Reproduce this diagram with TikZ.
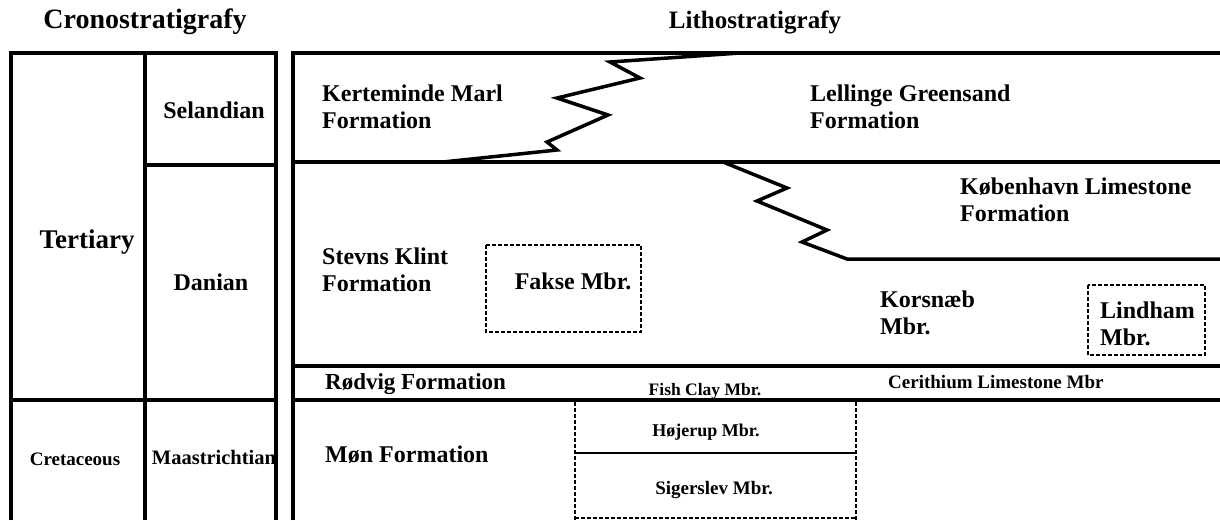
\documentclass[tikz,border=0pt]{standalone}
\usepackage{fontspec}
\setmainfont{Liberation Serif}
\tikzset{
  bed/.style={line width=3.5pt},
  thinbed/.style={line width=2pt},
  mbrbox/.style={line width=2pt, dash pattern=on 4pt off 2pt},
  mbrline/.style={line width=2pt, dash pattern=on 4pt off 2pt},
  big/.style={font=\bfseries\fontsize{24}{27}\selectfont, align=left, inner sep=0pt},
  small/.style={font=\bfseries\fontsize{19}{22}\selectfont, inner sep=0pt},
  head/.style={font=\bfseries\fontsize{26}{30}\selectfont, inner sep=0pt}
}
\begin{document}
\begin{tikzpicture}[x=1pt,y=-1pt]
  \useasboundingbox (0,0) rectangle (1220,520);
  \node[head, font=\bfseries\fontsize{28}{30}\selectfont] (crono) at (145,22) {Cronostratigrafy};
  \node[head, font=\bfseries\fontsize{25}{30}\selectfont] (litho) at (755,22) {Lithostratigrafy};
  \begin{scope}[bed]
    \draw (11,520) |- (276,53) -- (276,520);
    \draw (145,53) -- (145,520);
    \draw (145,165) -- (276,165);
    \draw (11,400) -- (276,400);
    \draw (293,520) |- (1220,53);
    \draw (293,162) -- (1220,162);
    \draw (293,366) -- (1220,366);
    \draw (293,400) -- (1220,400);
    \draw[line join=miter] (443,162) -- (557,150) -- (547,142) -- (608,115) -- (557,98)
      -- (640,78) -- (610,62) -- (740,53);
    \draw[line join=miter] (723,162) -- (787,188) -- (757,201) -- (827,230) -- (802,242)
      -- (847,259) -- (1220,259);
  \end{scope}
  \draw[mbrbox] (486,245) rectangle (641,332);
  \draw[mbrbox] (1088,285) rectangle (1205,355);
  \draw[mbrline] (575,402) -- (575,520);
  \draw[mbrline] (856,402) -- (856,520);
  \draw[mbrline] (575,518) -- (856,518);
  \draw[thinbed] (575,453) -- (856,453);
  \node[big, font=\bfseries\fontsize{27}{30}\selectfont] (tertiary) at (87,242) {Tertiary};
  \node[big] (selandian) at (214,110) {Selandian};
  \node[big] (danian) at (211,282) {Danian};
  \node[small] (cretaceous) at (75,459) {Cretaceous};
  \node[small, font=\bfseries\fontsize{20.5}{22}\selectfont] (maastricht) at (214,457) {Maastrichtian};
  \node[big, anchor=west] (kerteminde) at (322,107) {Kerteminde Marl\\Formation};
  \node[big, anchor=west] (lellinge) at (810,107) {Lellinge Greensand\\Formation};
  \node[big, anchor=west] (kobenhavn) at (960,200) {København Limestone\\Formation};
  \node[big, anchor=west] (stevns) at (322,270) {Stevns Klint\\Formation};
  \node[big] (fakse) at (573,281) {Fakse Mbr.};
  \node[big, anchor=west] (korsnaeb) at (880,313) {Korsnæb\\Mbr.};
  \node[big, anchor=west] (lindham) at (1100,324) {Lindham\\Mbr.};
  \node[big, anchor=west, font=\bfseries\fontsize{23}{27}\selectfont] (rodvig) at (325,384) {Rødvig Formation};
  \node[small, font=\bfseries\fontsize{17.5}{20}\selectfont] (fishclay) at (705,391) {Fish Clay Mbr.};
  \node[small, anchor=west] (cerithium) at (888,382) {Cerithium Limestone Mbr};
  \node[big, anchor=west] (mon) at (325,455) {Møn Formation};
  \node[small, font=\bfseries\fontsize{18}{20}\selectfont] (hojerup) at (706,432) {Højerup Mbr.};
  \node[small] (sigerslev) at (714,490) {Sigerslev Mbr.};
\end{tikzpicture}
\end{document}
